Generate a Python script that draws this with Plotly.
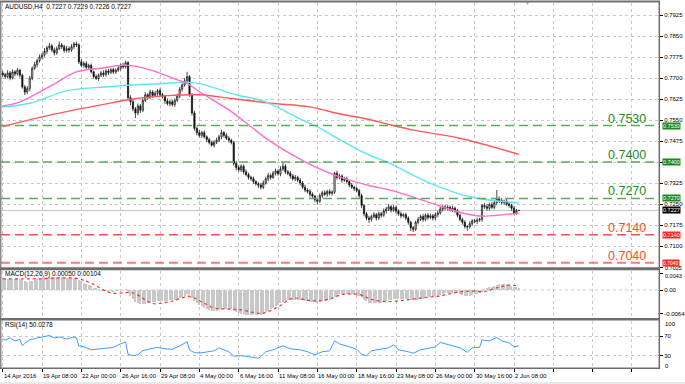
import plotly.graph_objects as go

W, H = 685, 384

# ---------------- data ----------------
first_open = 0.7718
closes = [
    0.7712, 0.7705, 0.7718, 0.7700, 0.7722, 0.7715, 0.7728, 0.7710, 0.7668, 0.7650,
    0.7662, 0.7700, 0.7735, 0.7748, 0.7762, 0.7775, 0.7782, 0.7795, 0.7808, 0.7815,
    0.7800, 0.7790, 0.7805, 0.7818, 0.7812, 0.7798, 0.7805, 0.7800, 0.7812, 0.7822,
    0.7818, 0.7758, 0.7745, 0.7752, 0.7738, 0.7745, 0.7722, 0.7705, 0.7698, 0.7710,
    0.7718, 0.7712, 0.7725, 0.7720, 0.7730, 0.7722, 0.7728, 0.7735, 0.7745, 0.7740,
    0.7755, 0.7630, 0.7615, 0.7590, 0.7575, 0.7600, 0.7585, 0.7620, 0.7640, 0.7632,
    0.7650, 0.7638, 0.7645, 0.7655, 0.7640, 0.7635, 0.7618, 0.7608, 0.7615, 0.7605,
    0.7620, 0.7635, 0.7660, 0.7675, 0.7690, 0.7705, 0.7640, 0.7575, 0.7520, 0.7505,
    0.7495, 0.7505, 0.7490, 0.7480, 0.7470, 0.7460, 0.7470, 0.7478, 0.7490, 0.7505,
    0.7495, 0.7485, 0.7478, 0.7470, 0.7395, 0.7380, 0.7372, 0.7385, 0.7365, 0.7355,
    0.7345, 0.7340, 0.7330, 0.7322, 0.7318, 0.7310, 0.7325, 0.7340, 0.7352, 0.7345,
    0.7360, 0.7368, 0.7358, 0.7375, 0.7385, 0.7365, 0.7360, 0.7350, 0.7340, 0.7345,
    0.7335, 0.7325, 0.7310, 0.7300, 0.7295, 0.7285, 0.7278, 0.7265, 0.7260, 0.7280,
    0.7290, 0.7285, 0.7295, 0.7288, 0.7292, 0.7360, 0.7345, 0.7350, 0.7335, 0.7340,
    0.7330, 0.7318, 0.7310, 0.7305, 0.7298, 0.7280, 0.7245, 0.7215, 0.7200, 0.7195,
    0.7205, 0.7212, 0.7200, 0.7215, 0.7210, 0.7225, 0.7232, 0.7240, 0.7228, 0.7238,
    0.7225, 0.7215, 0.7208, 0.7212, 0.7200, 0.7185, 0.7165, 0.7160, 0.7185, 0.7195,
    0.7205, 0.7195, 0.7210, 0.7202, 0.7208, 0.7200, 0.7212, 0.7218, 0.7232, 0.7240,
    0.7235, 0.7238, 0.7230, 0.7235, 0.7225, 0.7210, 0.7195, 0.7185, 0.7170, 0.7168,
    0.7180, 0.7190, 0.7188, 0.7192, 0.7195, 0.7245, 0.7240, 0.7235, 0.7248, 0.7238,
    0.7255, 0.7270, 0.7262, 0.7255, 0.7260, 0.7250, 0.7245, 0.7235, 0.7218, 0.7227,
    0.7227,
]
wick_up = [  # pips above the body
    8, 6, 10, 7, 9, 6, 8, 5, 6, 7,
    9, 8, 6, 10, 7, 9, 8, 12, 7, 10,
    6, 9, 8, 12, 7, 6, 10, 8, 9, 7,
    8, 6, 9, 7, 8, 6, 7, 5, 8, 6,
    7, 9, 6, 8, 5, 7, 6, 8, 7, 9,
    7, 5, 8, 10, 6, 9, 7, 8, 10, 6,
    8, 7, 9, 6, 8, 7, 5, 9, 6, 8,
    7, 9, 8, 6, 10, 17, 5, 6, 8, 7,
    9, 6, 8, 5, 7, 6, 8, 9, 7, 10,
    6, 8, 7, 5, 6, 9, 8, 7, 6, 8,
    7, 6, 8, 5, 7, 6, 9, 8, 10, 7,
    8, 9, 6, 10, 15, 7, 6, 8, 7, 9,
    6, 8, 7, 9, 6, 8, 7, 5, 6, 8,
    7, 9, 6, 8, 7, 5, 9, 8, 6, 7,
    8, 6, 7, 5, 8, 6, 7, 5, 6, 8,
    7, 9, 6, 8, 7, 9, 8, 10, 6, 8,
    7, 6, 8, 5, 7, 6, 5, 7, 6, 8,
    7, 9, 6, 8, 7, 6, 8, 7, 9, 8,
    6, 8, 7, 9, 6, 7, 5, 6, 7, 5,
    8, 6, 7, 9, 6, 5, 8, 10, 7, 9,
    8, 30, 7, 9, 6, 8, 7, 6, 8, 6,
    2,
]
wick_dn = [  # pips below the body
    7, 9, 6, 8, 5, 9, 7, 8, 6, 11,
    7, 9, 8, 6, 10, 7, 8, 6, 9, 7,
    8, 10, 7, 6, 9, 8, 7, 9, 6, 8,
    7, 8, 6, 9, 7, 8, 6, 7, 5, 8,
    6, 8, 7, 9, 6, 8, 7, 6, 8, 7,
    6, 10, 12, 9, 18, 8, 10, 7, 6, 9,
    7, 8, 6, 9, 7, 8, 10, 6, 9, 7,
    8, 6, 7, 9, 6, 8, 7, 9, 8, 10,
    7, 9, 6, 8, 7, 5, 8, 6, 7, 9,
    8, 6, 9, 7, 8, 10, 7, 8, 9, 6,
    8, 7, 9, 6, 11, 8, 7, 6, 9, 8,
    6, 8, 7, 9, 6, 8, 7, 9, 6, 8,
    7, 9, 6, 8, 7, 9, 6, 8, 12, 7,
    8, 6, 9, 7, 8, 6, 8, 7, 9, 6,
    7, 8, 6, 9, 7, 8, 10, 9, 8, 13,
    8, 6, 9, 7, 8, 6, 9, 7, 8, 6,
    8, 7, 9, 6, 8, 9, 12, 10, 7, 8,
    6, 9, 7, 8, 6, 9, 7, 8, 6, 9,
    7, 8, 6, 9, 7, 8, 7, 9, 8, 14,
    6, 8, 7, 9, 6, 8, 7, 9, 8, 6,
    7, 9, 8, 6, 9, 7, 8, 9, 7, 6,
    1,
]

# moving averages, sampled at bar indices
ma_fast_idx = [0, 7, 19, 30, 40, 50, 60, 71, 75, 80, 92, 101, 108, 122, 133, 141, 149, 160, 174, 187, 194, 201, 210]
ma_fast_val = [0.7600, 0.7615, 0.7669, 0.7722, 0.7735, 0.7746, 0.7729, 0.7693, 0.7681, 0.7651, 0.7586, 0.7526,
               0.7479, 0.7405, 0.7360, 0.7335, 0.7316, 0.7294, 0.7254, 0.7218, 0.7207, 0.7210, 0.7217]
ma_mid_idx = [0, 11, 26, 40, 53, 67, 75, 81, 95, 106, 120, 129, 136, 149, 156, 174, 190, 210]
ma_mid_val = [0.7597, 0.7610, 0.7654, 0.7667, 0.7675, 0.7681, 0.7685, 0.7678, 0.7640, 0.7618, 0.7558, 0.7521,
              0.7485, 0.7425, 0.7401, 0.7324, 0.7276, 0.7254]
ma_slow_idx = [0, 12, 26, 40, 53, 67, 80, 93, 109, 125, 136, 150, 158, 167, 186, 210]
ma_slow_val = [0.7526, 0.7553, 0.7580, 0.7604, 0.7625, 0.7637, 0.7640, 0.7627, 0.7610, 0.7597, 0.7574, 0.7550,
               0.7532, 0.7514, 0.7485, 0.7427]

# MACD main (histogram), one value per bar
macd_main = [
    0.0029, 0.0029, 0.0030, 0.0029, 0.0030, 0.0030, 0.0031, 0.0030, 0.0027, 0.0024,
    0.0022, 0.0023, 0.0025, 0.0027, 0.0029, 0.0031, 0.0032, 0.0034, 0.0035, 0.0036,
    0.0035, 0.0034, 0.0034, 0.0035, 0.0034, 0.0033, 0.0032, 0.0031, 0.0031, 0.0032,
    0.0031, 0.0027, 0.0023, 0.0020, 0.0017, 0.0014, 0.0010, 0.0006, 0.0003, 0.0001,
    -0.0001, -0.0002, -0.0002, -0.0003, -0.0002, -0.0003, -0.0002, -0.0001, 0.0000, 0.0000,
    0.0002, -0.0008, -0.0016, -0.0024, -0.0031, -0.0034, -0.0038, -0.0038, -0.0037, -0.0036,
    -0.0034, -0.0033, -0.0032, -0.0030, -0.0030, -0.0029, -0.0029, -0.0029, -0.0028, -0.0028,
    -0.0027, -0.0025, -0.0022, -0.0019, -0.0016, -0.0012, -0.0016, -0.0022, -0.0030, -0.0036,
    -0.0041, -0.0044, -0.0047, -0.0050, -0.0053, -0.0055, -0.0056, -0.0055, -0.0054, -0.0052,
    -0.0051, -0.0050, -0.0050, -0.0050, -0.0055, -0.0059, -0.0062, -0.0063, -0.0065, -0.0066,
    -0.0067, -0.0068, -0.0068, -0.0068, -0.0067, -0.0066, -0.0063, -0.0059, -0.0055, -0.0051,
    -0.0047, -0.0043, -0.0039, -0.0035, -0.0031, -0.0029, -0.0027, -0.0026, -0.0026, -0.0026,
    -0.0026, -0.0027, -0.0028, -0.0029, -0.0030, -0.0031, -0.0032, -0.0033, -0.0034, -0.0032,
    -0.0030, -0.0029, -0.0027, -0.0026, -0.0024, -0.0018, -0.0015, -0.0012, -0.0011, -0.0010,
    -0.0010, -0.0011, -0.0012, -0.0013, -0.0015, -0.0017, -0.0021, -0.0026, -0.0030, -0.0034,
    -0.0035, -0.0035, -0.0036, -0.0035, -0.0034, -0.0032, -0.0030, -0.0028, -0.0027, -0.0025,
    -0.0024, -0.0024, -0.0024, -0.0023, -0.0024, -0.0025, -0.0027, -0.0028, -0.0027, -0.0026,
    -0.0024, -0.0023, -0.0021, -0.0020, -0.0019, -0.0018, -0.0017, -0.0015, -0.0013, -0.0011,
    -0.0009, -0.0008, -0.0008, -0.0007, -0.0008, -0.0009, -0.0011, -0.0013, -0.0015, -0.0016,
    -0.0015, -0.0013, -0.0012, -0.0011, -0.0009, -0.0003, 0.0001, 0.0004, 0.0007, 0.0009,
    0.0011, 0.0014, 0.0016, 0.0017, 0.0017, 0.0016, 0.0014, 0.0012, 0.0009, 0.0007,
    0.0005,
]
# MACD signal, sampled
sig_idx = [0, 15, 30, 36, 44, 53, 61, 68, 76, 81, 86, 92, 97, 102, 106, 112, 118, 124, 129, 134, 138, 145,
           150, 156, 165, 172, 178, 185, 191, 196, 201, 206, 210]
sig_val = [0.0030, 0.0030, 0.0031, 0.0018, -0.0008, -0.0008, -0.0036, -0.0031, -0.0018, -0.0032, -0.0048,
           -0.0051, -0.0053, -0.0060, -0.0062, -0.0045, -0.0022, -0.0027, -0.0029, -0.0022, -0.0012, -0.0012,
           -0.0025, -0.0031, -0.0026, -0.0020, -0.0016, -0.0006, -0.0003, -0.0004, 0.0006, 0.0013, 0.00104]

# RSI(14), sampled
rsi_idx = [0, 1, 3, 5, 7, 8, 9, 11, 14, 16, 19, 21, 23, 26, 29, 30, 31, 33, 36, 38, 42, 45, 47, 49, 50, 51, 53,
           55, 57, 60, 63, 66, 69, 72, 74, 75, 76, 78, 81, 84, 86, 88, 89, 92, 94, 97, 100, 104, 105, 107, 110,
           112, 114, 117, 121, 124, 127, 130, 133, 135, 137, 141, 144, 146, 148, 150, 153, 157, 159, 161, 165,
           167, 170, 174, 176, 178, 182, 186, 189, 191, 194, 195, 198, 201, 203, 206, 208, 210]
rsi_val = [64, 62, 66, 60, 63, 50, 55, 62, 66, 68, 71, 66, 68, 64, 68, 66, 50, 48, 42, 43, 46, 47, 52, 55, 58, 33,
           30, 32, 40, 44, 47, 44, 43, 50, 56, 58, 42, 36, 36, 38, 40, 46, 44, 38, 29, 30, 28, 25, 28, 38, 42,
           46, 50, 44, 42, 38, 32, 38, 40, 60, 54, 48, 43, 33, 30, 40, 43, 46, 52, 42, 38, 35, 42, 46, 48, 57,
           52, 46, 37, 46, 47, 62, 60, 67, 60, 56, 48, 50.0278]

price_ticks = [0.7925, 0.7850, 0.7775, 0.7700, 0.7625, 0.7550, 0.7475, 0.7400, 0.7325, 0.7250, 0.7175, 0.7100, 0.7025]
price_tick_text = ["0.7925", "0.7850", "0.7775", "0.7700", "0.7625", "0.7550", "0.7475", "", "0.7325", "0.7250",
                   "0.7175", "0.7100", ""]
bottom_tick_text = "0.7025"
macd_ticks = [0.0043, 0.0, -0.0064]
macd_tick_text = ["", "0.00", "-0.0064"]
macd_top_text = "0.0043"
date_idx = [0, 16, 32, 48, 64, 80, 96, 112, 128, 144, 160, 176, 192, 208]
date_labels = ["14 Apr 2016", "19 Apr 08:00", "22 Apr 00:00", "26 Apr 16:00", "29 Apr 08:00", "4 May 00:00",
               "6 May 16:00", "11 May 08:00", "16 May 00:00", "18 May 16:00", "23 May 08:00", "26 May 00:00",
               "30 May 16:00", "2 Jun 08:00"]
levels_up = [0.7530, 0.7400, 0.7270]
levels_dn = [0.7140, 0.7040]
last_price = 0.7227

# ---------------- derived OHLC ----------------
N = len(closes)
bars = list(range(N))
opens = [first_open] + closes[:-1]
highs = [max(o, c) + u * 1e-4 for o, c, u in zip(opens, closes, wick_up)]
lows = [min(o, c) - d * 1e-4 for o, c, d in zip(opens, closes, wick_dn)]

# ---------------- geometry helpers ----------------
def px(xp):
    return xp / W

def py(yp):
    return 1 - yp / H

X0, X1 = 1, 659
PRICE_T, PRICE_B = 3, 267
MACD_T, MACD_B = 271, 318
RSI_T, RSI_B = 321, 368
bar_px = 511.3 / 208.0
xr0 = -1.7 / bar_px
xr1 = xr0 + (X1 - X0) / bar_px

ppu = 2800.0
p_top = 0.7925 + (15 - PRICE_T) / ppu
p_bot = 0.7925 - (PRICE_B - 15) / ppu
mpu = 3738.0
m_top = (290 - MACD_T) / mpu
m_bot = -(MACD_B - 290) / mpu
rpu = 0.4925
r_top = 70 + (336 - RSI_T) / rpu
r_bot = 30 - (RSI_B - 355.7) / rpu

FONT = "Liberation Sans, Arial, sans-serif"
GRID = "#c8c8c8"

fig = go.Figure()

# price pane
fig.add_trace(go.Candlestick(
    x=bars, open=opens, high=highs, low=lows, close=closes,
    increasing=dict(line=dict(color="#1a1a1a", width=0.8), fillcolor="#ffffff"),
    decreasing=dict(line=dict(color="#1a1a1a", width=0.8), fillcolor="#000000"),
    whiskerwidth=0, xaxis="x", yaxis="y", hoverinfo="skip",
))
fig.add_trace(go.Scatter(x=ma_slow_idx, y=ma_slow_val, mode="lines", line=dict(color="#ff5a5a", width=1.4, shape="spline"),
                         xaxis="x", yaxis="y", hoverinfo="skip"))
fig.add_trace(go.Scatter(x=ma_mid_idx, y=ma_mid_val, mode="lines", line=dict(color="#5ee6f5", width=1.4, shape="spline"),
                         xaxis="x", yaxis="y", hoverinfo="skip"))
fig.add_trace(go.Scatter(x=ma_fast_idx, y=ma_fast_val, mode="lines", line=dict(color="#ff6ec7", width=1.4, shape="spline"),
                         xaxis="x", yaxis="y", hoverinfo="skip"))

# MACD pane
fig.add_trace(go.Bar(x=bars, y=macd_main, marker=dict(color="#c8c8c8", line=dict(width=0)), width=0.45,
                     xaxis="x2", yaxis="y2", hoverinfo="skip"))
fig.add_trace(go.Scatter(x=sig_idx, y=sig_val, mode="lines", line=dict(color="#ff3030", width=1.2, dash="dot", shape="spline"),
                         xaxis="x2", yaxis="y2", hoverinfo="skip"))

# RSI pane
fig.add_trace(go.Scatter(x=rsi_idx, y=rsi_val, mode="lines", line=dict(color="#3d9cff", width=1),
                         xaxis="x3", yaxis="y3", hoverinfo="skip"))

xcommon = dict(range=[xr0, xr1], domain=[px(X0), px(X1)], showgrid=True, gridcolor=GRID, griddash="dot",
               gridwidth=1, zeroline=False, showline=False, tickvals=list(range(0, 268, 16)),
               showticklabels=False, fixedrange=True)

fig.update_layout(
    width=W, height=H, margin=dict(l=0, r=0, t=0, b=0),
    paper_bgcolor="white", plot_bgcolor="white", showlegend=False, bargap=0,
    font=dict(family=FONT, size=6, color="#000000"),
    xaxis=dict(**xcommon, anchor="y", rangeslider=dict(visible=False), ticks=""),
    xaxis2=dict(**xcommon, anchor="y2", matches="x", ticks=""),
    xaxis3=dict(**xcommon, anchor="y3", matches="x", ticks="outside", ticklen=3, tickcolor="#000000"),
    yaxis=dict(domain=[py(PRICE_B), py(PRICE_T)], range=[p_bot, p_top], side="right", anchor="x",
               tickvals=price_ticks, ticktext=price_tick_text, ticks="outside", ticklen=3,
               tickcolor="#000000", showgrid=True, gridcolor=GRID, griddash="dot", zeroline=False,
               tickfont=dict(size=6, family=FONT)),
    yaxis2=dict(domain=[py(MACD_B), py(MACD_T)], range=[m_bot, m_top], side="right", anchor="x2",
                tickvals=macd_ticks, ticktext=macd_tick_text, ticks="outside",
                ticklen=3, tickcolor="#000000", showgrid=False, zeroline=False, tickfont=dict(size=6, family=FONT)),
    yaxis3=dict(domain=[py(RSI_B), py(RSI_T)], range=[r_bot, r_top], side="right", anchor="x3",
                tickvals=[70, 30], ticktext=["70", "30"], ticks="outside", ticklen=3, tickcolor="#000000",
                showgrid=True, gridcolor=GRID, griddash="dot", zeroline=False, tickfont=dict(size=6, family=FONT)),
)

shapes = []
# MACD zero line
shapes.append(dict(type="line", xref="paper", yref="y2", x0=px(X0), x1=px(X1), y0=0, y1=0,
                   line=dict(color=GRID, width=1, dash="dot"), layer="below"))
# current price line
shapes.append(dict(type="line", xref="paper", yref="y", x0=px(X0), x1=px(X1), y0=last_price, y1=last_price,
                   line=dict(color="#c4c4c4", width=1), layer="below"))
# level lines
for v in levels_up:
    shapes.append(dict(type="line", xref="paper", yref="y", x0=px(X0), x1=px(X1), y0=v, y1=v,
                       line=dict(color="#55b055", width=1.5, dash="9px,5px")))
for v, c, w in zip(levels_dn, ["#ff4d4d", "#ff7a7a"], [1.5, 2]):
    shapes.append(dict(type="line", xref="paper", yref="y", x0=px(X0), x1=px(X1), y0=v, y1=v,
                       line=dict(color=c, width=w, dash="9px,5px")))
# pane borders / separators
BORDER = "#6e6e6e"
for y0, w in [(1.5, 2), (268.8, 3), (319.2, 2.5), (368.3, 1.5)]:
    shapes.append(dict(type="line", xref="paper", yref="paper", x0=px(0), x1=px(660), y0=py(y0), y1=py(y0),
                       line=dict(color=BORDER, width=w)))
shapes.append(dict(type="line", xref="paper", yref="paper", x0=px(659.3), x1=px(659.3), y0=py(1), y1=py(369),
                   line=dict(color=BORDER, width=1.5)))
shapes.append(dict(type="line", xref="paper", yref="paper", x0=px(0.8), x1=px(0.8), y0=py(1), y1=py(369),
                   line=dict(color=BORDER, width=1.2)))
shapes.append(dict(type="rect", xref="paper", yref="paper", x0=0, x1=1, y0=0, y1=py(382),
                   line=dict(width=0), fillcolor="#e8e8e8"))
fig.update_layout(shapes=shapes)

ann = []
# pane titles
ann.append(dict(text="AUDUSD,H4\u00a0 0.7227 0.7229 0.7226 0.7227", xref="paper", yref="paper", x=px(3), y=py(6),
                xanchor="left", yanchor="middle", showarrow=False, font=dict(size=6.5, color="#000000")))
ann.append(dict(text="MACD(12,26,9) 0.00050 0.00104", xref="paper", yref="paper", x=px(3), y=py(274),
                xanchor="left", yanchor="middle", showarrow=False, font=dict(size=6.5, color="#000000")))
ann.append(dict(text="RSI(14) 50.0278", xref="paper", yref="paper", x=px(3), y=py(325),
                xanchor="left", yanchor="middle", showarrow=False, font=dict(size=6.5, color="#000000")))
# RSI extreme labels
for t, yy in [("100", 324), ("0", 366)]:
    ann.append(dict(text=t, xref="paper", yref="paper", x=px(663), y=py(yy), xanchor="left", yanchor="middle",
                    showarrow=False, font=dict(size=6)))
# bottom price label (just under the 0.7040 box) and top MACD label
ann.append(dict(text=bottom_tick_text, xref="paper", yref="paper", x=px(663), y=py(268.0), xanchor="left",
                yanchor="middle", showarrow=False, font=dict(size=5.5)))
ann.append(dict(text=macd_top_text, xref="paper", yref="paper", x=px(663), y=py(275.6), xanchor="left",
                yanchor="middle", showarrow=False, font=dict(size=5.5)))
# date labels
for i, t in zip(date_idx, date_labels):
    ann.append(dict(text=t, xref="x3", yref="paper", x=i, y=py(376), xanchor="left", yanchor="middle",
                    xshift=-1, showarrow=False, font=dict(size=6)))
# level texts
for v in levels_up:
    ann.append(dict(text=f"{v:.4f}", xref="paper", yref="y", x=px(648), y=v, xanchor="right", yanchor="middle",
                    yshift=7, showarrow=False, font=dict(size=12.5, color="#1e8c1e")))
for v in levels_dn:
    ann.append(dict(text=f"{v:.4f}", xref="paper", yref="y", x=px(648), y=v, xanchor="right", yanchor="middle",
                    yshift=7, showarrow=False, font=dict(size=12.5, color="#ff4a1a")))
# right-axis value boxes
for v, bg, fs in [(0.7530, "#1f8a1f", 5.5), (0.7400, "#1f8a1f", 5.5), (0.7270, "#1f8a1f", 5.5),
                  (last_price, "#000000", 5.5), (0.7140, "#ff2a2a", 5.5), (0.7040, "#ff2a2a", 5)]:
    ann.append(dict(text=f"{v:.4f}", xref="paper", yref="y", x=px(661.5), y=v, xanchor="left", yanchor="middle",
                    showarrow=False, bgcolor=bg, borderpad=0, font=dict(size=fs, color="#ffffff")))
# chart shift marker
ann.append(dict(text="\u25bc", xref="paper", yref="paper", x=px(527), y=py(3), xanchor="center", yanchor="middle",
                showarrow=False, font=dict(size=5, color="#9a9a9a")))
fig.update_layout(annotations=ann)

fig.write_html("out.html", config={"displayModeBar": False},
               post_script="document.body.style.margin='0px';document.body.style.padding='0px';")
